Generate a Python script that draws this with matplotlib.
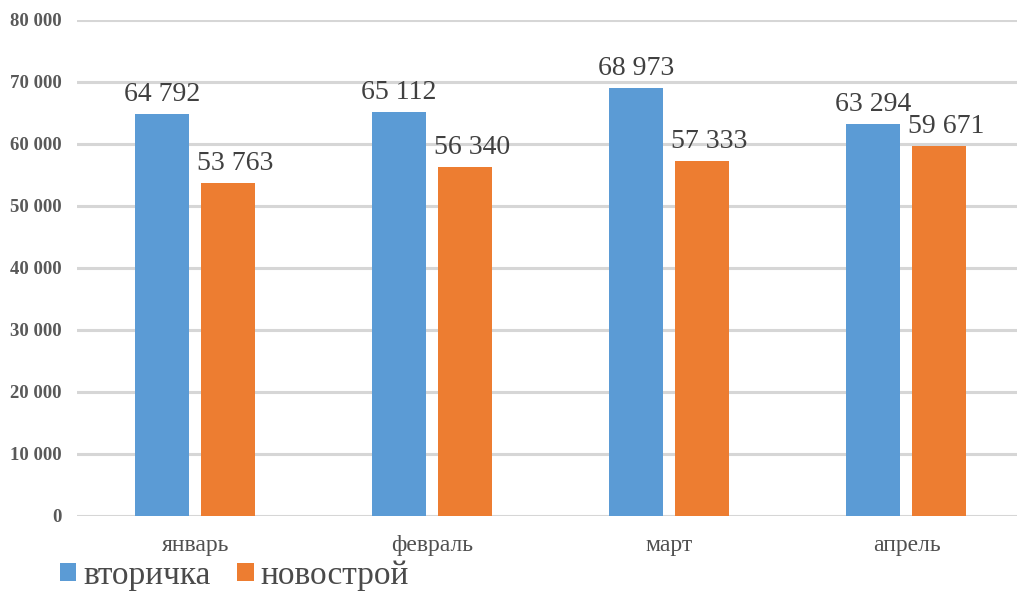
import matplotlib.pyplot as plt
import numpy as np

# monthly values, two series
months = ['январь', 'февраль', 'март', 'апрель']
resale = [64792, 65112, 68973, 63294]
new_build = [53763, 56340, 57333, 59671]
series_names = ['вторичка', 'новострой']

blue = '#5B9BD5'
orange = '#ED7D31'
grey = '#595959'

plt.rcParams['font.family'] = ['Liberation Serif', 'DejaVu Serif']

fig = plt.figure(figsize=(10.17, 5.92), dpi=100)
ax = fig.add_axes([77 / 1017, 76 / 592, 948 / 1017, 496 / 592])

x = np.arange(len(months))
w = 0.228
b1 = ax.bar(x - 0.141, resale, w, color=blue, zorder=3, label=series_names[0])
b2 = ax.bar(x + 0.139, new_build, w, color=orange, zorder=3, label=series_names[1])

def fmt(v):
    return '{:,}'.format(v).replace(',', ' ')

for rect, v in zip(b1, resale):
    ax.annotate(fmt(v), (rect.get_x() + rect.get_width() / 2, v),
                xytext=(0, 5), textcoords='offset points',
                ha='center', va='bottom', fontsize=20, color='#404040')
for rect, v in zip(b2, new_build):
    ax.annotate(fmt(v), (rect.get_x() + rect.get_width() / 2, v),
                xytext=(5, 5), textcoords='offset points',
                ha='center', va='bottom', fontsize=20, color='#404040')

ax.set_xlim(-0.5, 3.5)
ax.set_ylim(0, 80000)
ax.set_yticks(np.arange(0, 80001, 10000))
ax.set_yticklabels([fmt(v) for v in range(0, 80001, 10000)],
                   fontsize=13.5, color=grey, fontweight='bold')
ax.set_xticks(x)
ax.set_xticklabels(months, fontsize=17, color='#505050')
ax.tick_params(axis='both', length=0)
ax.tick_params(axis='y', pad=11)
ax.tick_params(axis='x', pad=14)

ax.grid(axis='y', color='#d6d6d6', linewidth=2.2, zorder=0)
for s in ax.spines.values():
    s.set_visible(False)

leg = fig.legend(handles=[b1, b2], loc='center left',
                 bbox_to_anchor=(43 / 1017, 1 - 576 / 592),
                 ncol=2, frameon=False, fontsize=24,
                 handlelength=0.5, handleheight=0.45,
                 handletextpad=0.2, columnspacing=0.8,
                 labelcolor='#4a4a4a', borderpad=0)

fig.savefig('out.png', dpi=100)
